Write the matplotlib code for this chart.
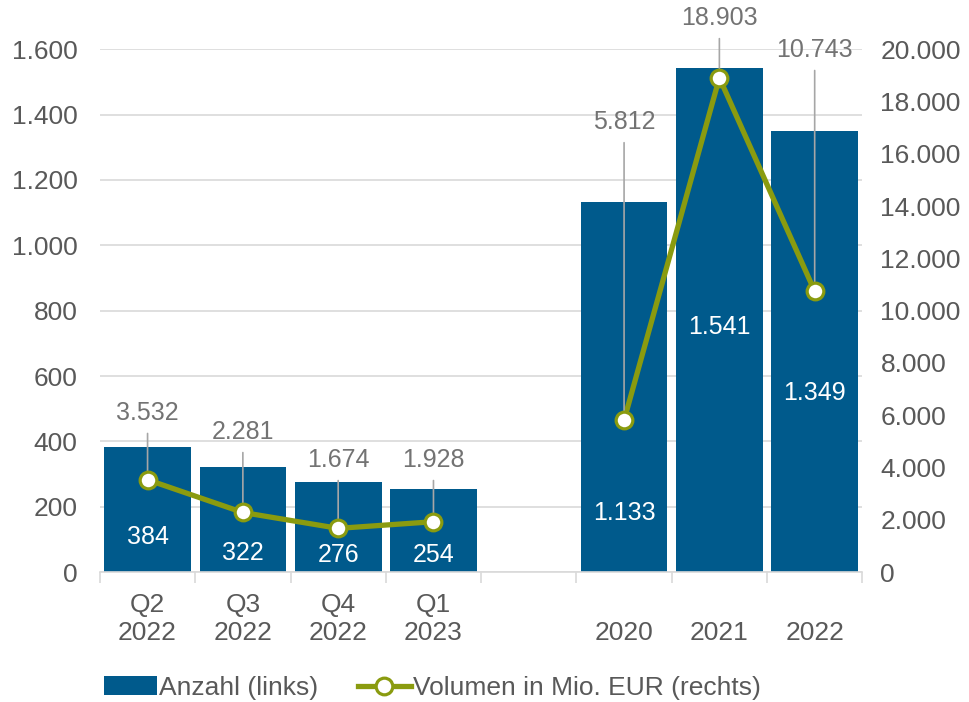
import numpy as np
import matplotlib
matplotlib.use("Agg")
import matplotlib.pyplot as plt
from matplotlib.lines import Line2D
from matplotlib.patches import Patch

plt.rcParams['font.family'] = ['Liberation Sans', 'DejaVu Sans']

# === Data ===
categories = ["Q2\n2022", "Q3\n2022", "Q4\n2022", "Q1\n2023", "", "\n2020", "\n2021", "\n2022"]
anzahl = [384, 322, 276, 254, np.nan, 1133, 1541, 1349]
volumen = [3532, 2281, 1674, 1928, np.nan, 5812, 18903, 10743]

# label positions (left axis units for counts, right axis units for volume)
count_label_y = [107, 58, 52, 52, None, 180, 749, 547]
vol_label_y = [6080, 5350, 4280, 4280, None, 17200, 21180, 19960]

bar_color = "#005A8C"
line_color = "#8A9B0F"
text_grey = "#595959"
label_grey = "#737373"
grid_grey = "#D9D9D9"
fs = 19

def de_fmt(v):
    return f"{v:,.0f}".replace(",", ".")

# === Plot ===
fig = plt.figure(figsize=(9.7, 7.02), dpi=100)
ax = fig.add_axes([0.103, 0.185, 0.786, 0.745])
ax2 = ax.twinx()

x = np.arange(len(categories))
ax.bar(x, anzahl, width=0.91, color=bar_color, zorder=2)
ax.set_ylim(0, 1600)
ax.set_xlim(-0.5, len(categories) - 0.5)
ax.set_yticks(np.arange(0, 1601, 200))
ax.set_yticklabels([de_fmt(v) for v in np.arange(0, 1601, 200)])
ax.yaxis.grid(True, color=grid_grey, linewidth=1.2, zorder=0)
ax.set_axisbelow(True)

ax.set_xticks(x)
ax.set_xticklabels(categories, linespacing=1.22)
ax.set_xticks(np.arange(-0.5, len(categories), 1), minor=True)
ax.tick_params(axis='x', which='major', length=0, pad=15, labelsize=fs, labelcolor=text_grey)
ax.tick_params(axis='x', which='minor', length=8, color=grid_grey, width=1.2)
ax.tick_params(axis='y', length=0, pad=16, labelsize=fs, labelcolor=text_grey)
for s in ["top", "left", "right"]:
    ax.spines[s].set_visible(False)
    ax2.spines[s].set_visible(False)
ax2.spines["bottom"].set_visible(False)
ax.spines["bottom"].set_color(grid_grey)
ax.spines["bottom"].set_linewidth(1.2)

for xi, v, ly in zip(x, anzahl, count_label_y):
    if ly is None:
        continue
    ax.text(xi, ly, de_fmt(v), ha='center', va='center', color='white', fontsize=18, zorder=3)

ax2.set_ylim(0, 20000)
ax2.set_yticks(np.arange(0, 20001, 2000))
ax2.set_yticklabels([de_fmt(v) for v in np.arange(0, 20001, 2000)])
ax2.tick_params(axis='y', length=0, pad=13, labelsize=fs, labelcolor=text_grey)

ax2.plot(x, volumen, color=line_color, linewidth=3.8, zorder=3)
ax2.plot(x, volumen, linestyle='none', marker='o', markersize=12, markerfacecolor='white',
         markeredgecolor=line_color, markeredgewidth=2.3, zorder=5)

for xi, v, ly in zip(x, volumen, vol_label_y):
    if ly is None:
        continue
    ax2.annotate(de_fmt(v), xy=(xi, v), xytext=(xi, ly), ha='center', va='center',
                 color=label_grey, fontsize=18, annotation_clip=False,
                 arrowprops=dict(arrowstyle='-', color='#A6A6A6', linewidth=1.2,
                                 shrinkA=4, shrinkB=0), zorder=4)

handles = [Patch(facecolor=bar_color, edgecolor='none', label="Anzahl (links)"),
           Line2D([0], [0], color=line_color, linewidth=3.8, marker='o', markersize=12,
                  markerfacecolor='white', markeredgecolor=line_color, markeredgewidth=2.3,
                  label="Volumen in Mio. EUR (rechts)")]
leg = fig.legend(handles=handles, loc='center', bbox_to_anchor=(0.446, 0.02),
                 ncol=2, frameon=False, fontsize=fs, handlelength=2.0, handletextpad=0.1,
                 columnspacing=1.5, labelcolor=text_grey)

fig.savefig("out.png", dpi=100)
